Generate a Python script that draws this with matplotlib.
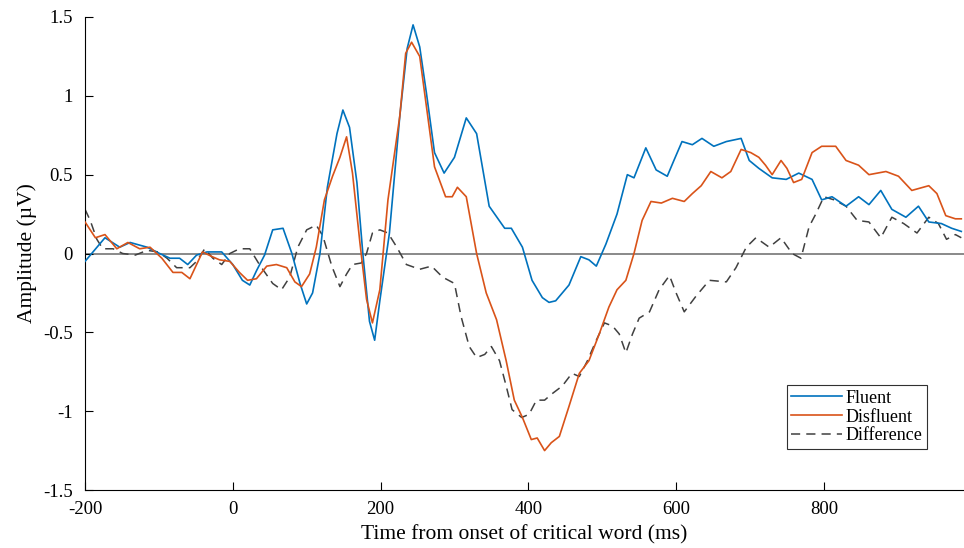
import matplotlib.pyplot as plt
import numpy as np

# time (ms) / amplitude (uV)
fluent_t = [-200, -173, -153, -139, -116, -99, -85, -72, -61, -49, -35, -15, 0, 13, 23, 32, 43, 54,
            68, 80, 91, 100, 108, 118, 128, 141, 149, 158, 168, 176, 185, 192, 199, 212, 226, 236,
            244, 253, 262, 273, 286, 300, 316, 330, 347, 368, 377, 392, 405, 419, 428, 437, 455,
            471, 482, 492, 505, 520, 534, 543, 559, 573, 588, 597, 608, 622, 635, 651, 668, 688,
            699, 712, 730, 749, 766, 784, 797, 811, 830, 847, 861, 877, 892, 911, 928, 942, 959,
            973, 986]
fluent_v = [-0.05, 0.10, 0.04, 0.07, 0.04, 0.00, -0.03, -0.03, -0.07, -0.01, 0.01, 0.01, -0.07,
            -0.17, -0.20, -0.11, -0.01, 0.15, 0.16, 0.00, -0.19, -0.32, -0.25, 0.00, 0.42, 0.76,
            0.91, 0.80, 0.45, 0.00, -0.43, -0.55, -0.30, 0.13, 0.87, 1.30, 1.45, 1.31, 1.02, 0.64,
            0.51, 0.61, 0.86, 0.76, 0.30, 0.16, 0.16, 0.04, -0.17, -0.28, -0.31, -0.30, -0.20,
            -0.02, -0.04, -0.08, 0.06, 0.25, 0.50, 0.48, 0.67, 0.53, 0.49, 0.59, 0.71, 0.69, 0.73,
            0.68, 0.71, 0.73, 0.59, 0.54, 0.48, 0.47, 0.51, 0.47, 0.34, 0.36, 0.30, 0.36, 0.31,
            0.40, 0.28, 0.23, 0.30, 0.20, 0.19, 0.16, 0.14]

disfluent_t = [-200, -186, -173, -157, -142, -126, -112, -96, -81, -69, -58, -49, -41, -28, -18,
               -4, 9, 20, 32, 46, 59, 73, 84, 93, 104, 113, 124, 135, 145, 154, 162, 172, 181,
               189, 199, 210, 226, 234, 242, 253, 261, 273, 288, 297, 304, 316, 330, 343, 357,
               370, 381, 392, 404, 412, 422, 431, 442, 455, 469, 482, 496, 509, 520, 532, 543,
               554, 566, 580, 595, 611, 622, 634, 647, 662, 674, 688, 701, 712, 721, 730, 742,
               750, 759, 770, 784, 797, 816, 830, 847, 861, 884, 901, 919, 942, 953, 965, 978, 986]
disfluent_v = [0.20, 0.10, 0.12, 0.03, 0.07, 0.03, 0.04, -0.03, -0.12, -0.12, -0.16, -0.07, 0.01,
               -0.02, -0.04, -0.05, -0.12, -0.17, -0.16, -0.08, -0.07, -0.09, -0.18, -0.21, -0.13,
               0.04, 0.34, 0.49, 0.61, 0.74, 0.51, 0.07, -0.29, -0.44, -0.23, 0.34, 0.87, 1.27,
               1.34, 1.25, 0.97, 0.55, 0.36, 0.36, 0.42, 0.36, 0.00, -0.25, -0.42, -0.68, -0.93,
               -1.04, -1.18, -1.17, -1.25, -1.20, -1.16, -0.97, -0.76, -0.68, -0.51, -0.34, -0.23,
               -0.17, 0.00, 0.21, 0.33, 0.32, 0.35, 0.33, 0.38, 0.43, 0.52, 0.48, 0.52, 0.66, 0.64,
               0.61, 0.56, 0.50, 0.59, 0.54, 0.45, 0.47, 0.64, 0.68, 0.68, 0.59, 0.56, 0.50, 0.52,
               0.49, 0.40, 0.43, 0.38, 0.24, 0.22, 0.22]

diff_t = [-200, -193, -184, -176, -162, -149, -132, -116, -101, -89, -76, -58, -49, -38, -27, -15,
          -4, 9, 23, 36, 54, 66, 77, 88, 100, 113, 122, 134, 145, 154, 162, 174, 181, 189, 199,
          210, 222, 235, 253, 269, 284, 300, 309, 320, 330, 341, 350, 361, 370, 378, 391, 401,
          411, 422, 432, 446, 459, 469, 480, 492, 503, 514, 523, 532, 541, 550, 564, 577, 591,
          600, 611, 627, 645, 668, 681, 695, 708, 726, 742, 757, 769, 780, 789, 800, 814, 830,
          845, 861, 877, 892, 908, 926, 942, 955, 966, 978, 986]
diff_v = [0.28, 0.21, 0.09, 0.03, 0.03, 0.00, -0.01, 0.02, 0.01, -0.03, -0.09, -0.09, -0.05, 0.03,
          -0.03, -0.07, 0.00, 0.03, 0.03, -0.07, -0.19, -0.23, -0.15, 0.04, 0.15, 0.18, 0.11,
          -0.08, -0.21, -0.13, -0.07, -0.06, 0.00, 0.13, 0.15, 0.13, 0.04, -0.07, -0.10, -0.08,
          -0.15, -0.19, -0.40, -0.59, -0.66, -0.64, -0.59, -0.68, -0.84, -0.99, -1.04, -1.02,
          -0.93, -0.93, -0.89, -0.84, -0.76, -0.78, -0.68, -0.55, -0.44, -0.46, -0.51, -0.63,
          -0.51, -0.41, -0.37, -0.23, -0.14, -0.25, -0.37, -0.27, -0.17, -0.18, -0.09, 0.04,
          0.10, 0.04, 0.10, 0.00, -0.03, 0.17, 0.25, 0.36, 0.34, 0.30, 0.21, 0.20, 0.10, 0.23,
          0.19, 0.13, 0.23, 0.19, 0.09, 0.12, 0.10]

x_ticks = [-200, 0, 200, 400, 600, 800]
y_ticks = [-1.5, -1, -0.5, 0, 0.5, 1, 1.5]

plt.rcParams['font.family'] = ['Liberation Serif', 'DejaVu Serif']
plt.rcParams['axes.unicode_minus'] = False

fig = plt.figure(figsize=(9.64, 5.48), dpi=100)
ax = fig.add_axes([0.0882, 0.1058, 0.9113, 0.8632])

ax.axhline(0, color='#808080', linewidth=1.3, zorder=1)
ax.plot(fluent_t, fluent_v, color='#0072BD', linewidth=1.2, label='Fluent', zorder=3)
ax.plot(disfluent_t, disfluent_v, color='#D95319', linewidth=1.2, label='Disfluent', zorder=3)
ax.plot(diff_t, diff_v, color='#404040', linewidth=1.1, linestyle=(0, (6, 4)),
        label='Difference', zorder=2)

ax.set_xlim(-200, 989)
ax.set_ylim(-1.5, 1.5)
ax.set_xticks(x_ticks)
ax.set_yticks(y_ticks)
ax.set_yticklabels([f'{v:g}' for v in y_ticks])
ax.tick_params(direction='in', length=6, width=0.8, labelsize=13.5)
ax.tick_params(axis='x', pad=8)
ax.tick_params(axis='y', pad=9)
ax.spines['top'].set_visible(False)
ax.spines['right'].set_visible(False)
ax.set_xlabel('Time from onset of critical word (ms)', fontsize=15.5, labelpad=5)
ax.set_ylabel('Amplitude (µV)', fontsize=15.5, labelpad=4)

leg = ax.legend(loc='lower right', bbox_to_anchor=(0.958, 0.087), fontsize=13,
                fancybox=False, edgecolor='#303030', framealpha=1,
                handlelength=2.8, borderpad=0.25, labelspacing=0.1, handletextpad=0.2,
                borderaxespad=0)
leg.get_frame().set_linewidth(0.8)

fig.savefig('out.png', dpi=100)
